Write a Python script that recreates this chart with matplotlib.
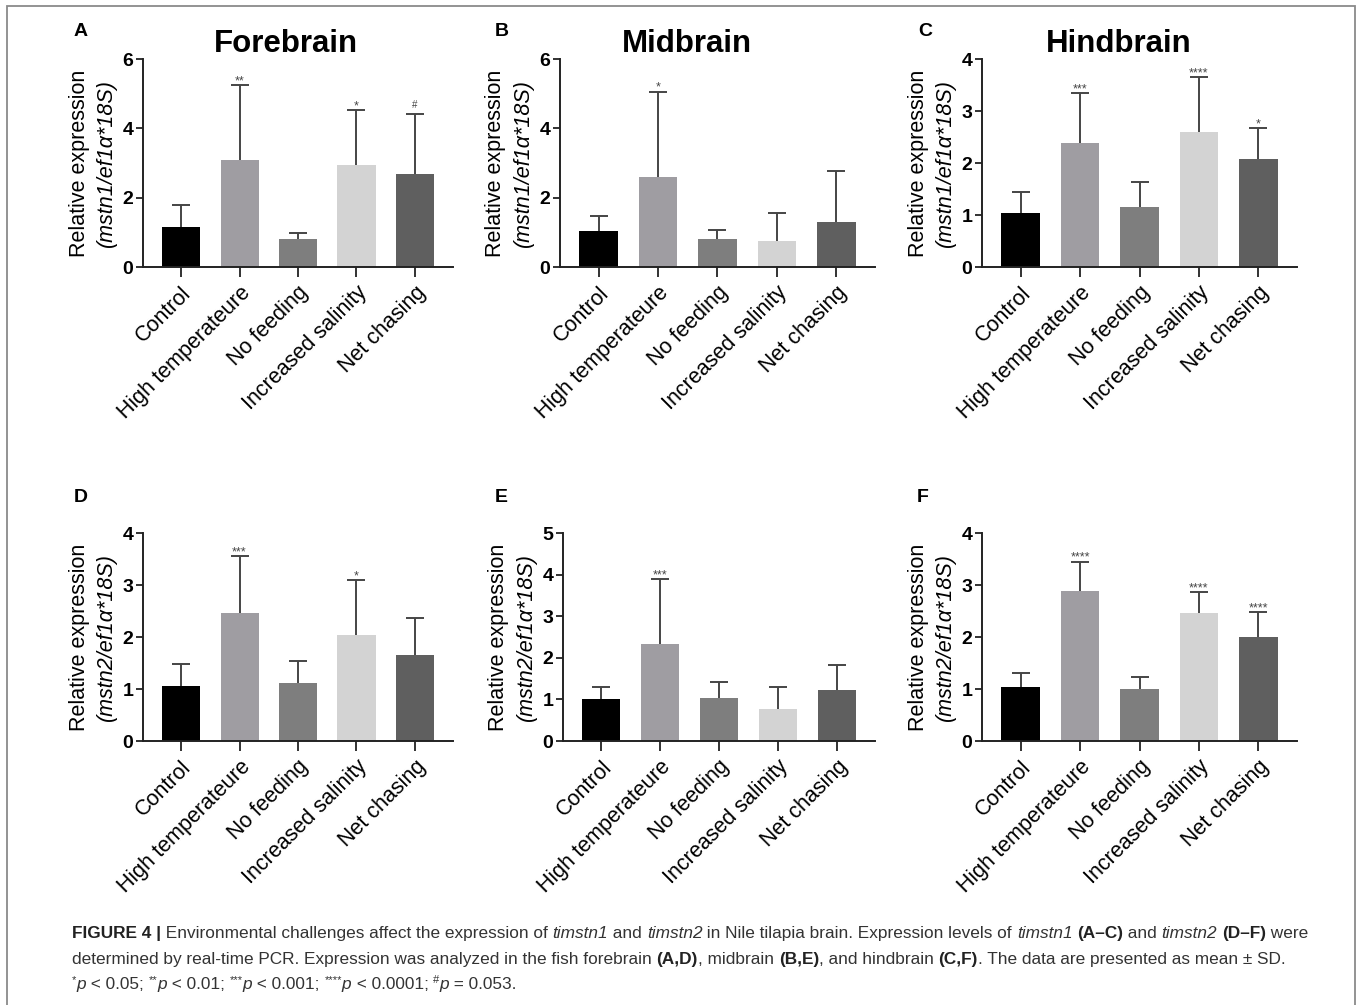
import matplotlib
matplotlib.use("Agg")
import matplotlib.pyplot as plt
from matplotlib.patches import Rectangle
from matplotlib.text import Annotation
import numpy as np

plt.rcParams['font.family'] = ['Liberation Sans', 'DejaVu Sans']

# ---------------- data ----------------
categories = ["Control", "High temperateure", "No feeding", "Increased salinity", "Net chasing"]
bar_colors = ["#000000", "#9f9da2", "#7e7e7e", "#d3d3d3", "#5f5f5f"]

fore_mstn1_mean = [1.15, 3.08, 0.81, 2.95, 2.69]
fore_mstn1_sd = [0.65, 2.16, 0.17, 1.58, 1.72]
fore_mstn1_sig = ["", "**", "", "*", "#"]

mid_mstn1_mean = [1.03, 2.60, 0.80, 0.74, 1.31]
mid_mstn1_sd = [0.43, 2.46, 0.26, 0.83, 1.45]
mid_mstn1_sig = ["", "*", "", "", ""]

hind_mstn1_mean = [1.04, 2.39, 1.16, 2.60, 2.07]
hind_mstn1_sd = [0.40, 0.95, 0.48, 1.06, 0.61]
hind_mstn1_sig = ["", "***", "", "****", "*"]

fore_mstn2_mean = [1.05, 2.47, 1.11, 2.04, 1.65]
fore_mstn2_sd = [0.44, 1.08, 0.43, 1.05, 0.71]
fore_mstn2_sig = ["", "***", "", "*", ""]

mid_mstn2_mean = [1.01, 2.34, 1.04, 0.77, 1.22]
mid_mstn2_sd = [0.30, 1.55, 0.39, 0.54, 0.61]
mid_mstn2_sig = ["", "***", "", "", ""]

hind_mstn2_mean = [1.03, 2.88, 1.00, 2.47, 2.00]
hind_mstn2_sd = [0.28, 0.57, 0.23, 0.39, 0.48]
hind_mstn2_sig = ["", "****", "", "****", "****"]

panel_letters = ["A", "B", "C", "D", "E", "F"]
panel_titles = ["Forebrain", "Midbrain", "Hindbrain", "", "", ""]
ylabel_gene = ["mstn1", "mstn1", "mstn1", "mstn2", "mstn2", "mstn2"]
y_max = [6, 6, 4, 4, 5, 4]
y_step = [2, 2, 1, 1, 1, 1]

# ---------------- layout ----------------
W, H = 1360, 1005
fig = plt.figure(figsize=(W / 100, H / 100), dpi=100)


def fx(x):
    return x / W


def fy(y):
    return 1 - y / H


# (left, right, top, bottom) in pixels
boxes = [(143, 453, 59, 267), (560, 875, 59, 267), (982, 1297, 59, 267),
         (143, 453, 533, 741), (563, 875, 533, 741), (982, 1297, 533, 741)]
letter_pos = [(74, 32), (495, 32), (918, 32), (74, 497), (495, 497), (917, 497)]
title_x = [286, 687, 1119]

means = [fore_mstn1_mean, mid_mstn1_mean, hind_mstn1_mean,
         fore_mstn2_mean, mid_mstn2_mean, hind_mstn2_mean]
sds = [fore_mstn1_sd, mid_mstn1_sd, hind_mstn1_sd,
       fore_mstn2_sd, mid_mstn2_sd, hind_mstn2_sd]
sigs = [fore_mstn1_sig, mid_mstn1_sig, hind_mstn1_sig,
        fore_mstn2_sig, mid_mstn2_sig, hind_mstn2_sig]

axis_col = "#222222"
err_col = "#454545"

for i in range(6):
    l, r, t, b = boxes[i]
    ax = fig.add_axes([fx(l), fy(b), (r - l) / W, (b - t) / H])
    x = np.arange(len(categories))
    m = np.array(means[i])
    s = np.array(sds[i])
    ax.errorbar(x, m, yerr=[np.zeros_like(s), s], fmt='none', ecolor=err_col,
                elinewidth=1.4, capsize=0, zorder=1)
    ax.plot(x, m + s, ls='none', marker='_', markersize=13, markeredgewidth=1.4,
            color=err_col, zorder=1)
    ax.bar(x, m, width=0.65, color=bar_colors, zorder=2)
    for xi, top, sg in zip(x, m + s, sigs[i]):
        if not sg:
            continue
        if sg == "#":
            ax.annotate(sg, (xi, top), xytext=(0, 4.5), textcoords='offset points',
                        ha='center', va='baseline', fontsize=7, color=err_col)
        else:
            ax.annotate(sg, (xi, top), xytext=(0, 0.5), textcoords='offset points',
                        ha='center', va='baseline', fontsize=9, color=err_col)
    ax.set_xlim(-0.65, len(categories) - 0.35)
    ax.set_ylim(0, y_max[i])
    ax.set_yticks(np.arange(0, y_max[i] + 0.01, y_step[i]))
    ax.set_xticks(x)
    ax.set_xticklabels(categories, rotation=45, ha='right', va='top',
                       rotation_mode='anchor', fontsize=15.5)
    for lab in ax.get_yticklabels():
        lab.set_fontsize(14)
        lab.set_fontweight('bold')
    ax.tick_params(axis='y', direction='out', length=5, width=1.3, colors=axis_col,
                   labelcolor='black', pad=2)
    ax.tick_params(axis='x', direction='out', length=7, width=1.3, colors=axis_col,
                   labelcolor='black', pad=4)
    for side in ['top', 'right']:
        ax.spines[side].set_visible(False)
    for side in ['left', 'bottom']:
        ax.spines[side].set_linewidth(1.4)
        ax.spines[side].set_color(axis_col)
    ax.set_facecolor('none')

    # y labels
    ymid = (t + b) / 2
    fig.text(fx(l - 64), fy(ymid), "Relative expression", rotation=90,
             ha='center', va='center', fontsize=15.5)
    fig.text(fx(l - 37), fy(ymid), "(" + ylabel_gene[i] + "/ef1\u03b1*18S)", rotation=90,
             ha='center', va='center', fontsize=15.5, style='italic')

    lx, ly = letter_pos[i]
    fig.text(fx(lx), fy(ly), panel_letters[i], fontsize=14, fontweight='bold',
             ha='left', va='center')
    if panel_titles[i]:
        fig.text(fx(title_x[i]), fy(44), panel_titles[i], fontsize=22.5,
                 fontweight='bold', ha='center', va='center')

# outer frame
fig.add_artist(Rectangle((fx(7), -0.02), (1355 - 7) / W, fy(6) + 0.02,
                         transform=fig.transFigure, fill=False,
                         edgecolor='#8a8a8a', lw=1.3))

# ---------------- caption ----------------
cap_col = "#333333"
base = 12.4


def rich_line(x, y, segments):
    # invisible anchor whose right edge sits at x and whose baseline is at y
    anchor = fig.text(fx(x), fy(y), "x", fontsize=base, alpha=0,
                      va='baseline', ha='right')
    prev = anchor
    for txt, kw in segments:
        a = Annotation(txt, xy=(1, 0), xycoords=(prev, anchor),
                       xytext=(kw.get('dx', 0), kw.get('rise', 0)), textcoords='offset points',
                       va='bottom', ha='left', fontsize=kw.get('size', base),
                       fontweight=kw.get('weight', 'normal'),
                       style=kw.get('style', 'normal'),
                       color=kw.get('color', cap_col))
        fig.add_artist(a)
        prev = a


N = {}
B = {'weight': 'bold', 'color': '#222222'}
I = {'style': 'italic'}
SUP = {'size': 8, 'rise': 5}

rich_line(72, 938, [
    ("FIGURE 4 |", B),
    (" Environmental challenges affect the expression of ", N),
    ("timstn1", I), (" and ", N), ("timstn2", I),
    (" in Nile tilapia brain. Expression levels of ", N),
    ("timstn1", I), (" ", N), ("(A\u2013C)", B), (" and ", N), ("timstn2", I),
    (" ", N), ("(D\u2013F)", B), (" were", N),
])
rich_line(72, 964, [
    ("determined by real-time PCR. Expression was analyzed in the fish forebrain ", N),
    ("(A,D)", B), (", midbrain ", N), ("(B,E)", B), (", and hindbrain ", N),
    ("(C,F)", B), (". The data are presented as mean \u00b1 SD.", N),
])
rich_line(72, 989, [
    ("*", SUP), ("p", I), (" < 0.05; ", N),
    ("**", SUP), ("p", I), (" < 0.01; ", N),
    ("***", SUP), ("p", I), (" < 0.001; ", N),
    ("****", SUP), ("p", I), (" < 0.0001; ", N),
    ("#", SUP), ("p", I), (" = 0.053.", N),
])

fig.savefig("out.png", dpi=100)
